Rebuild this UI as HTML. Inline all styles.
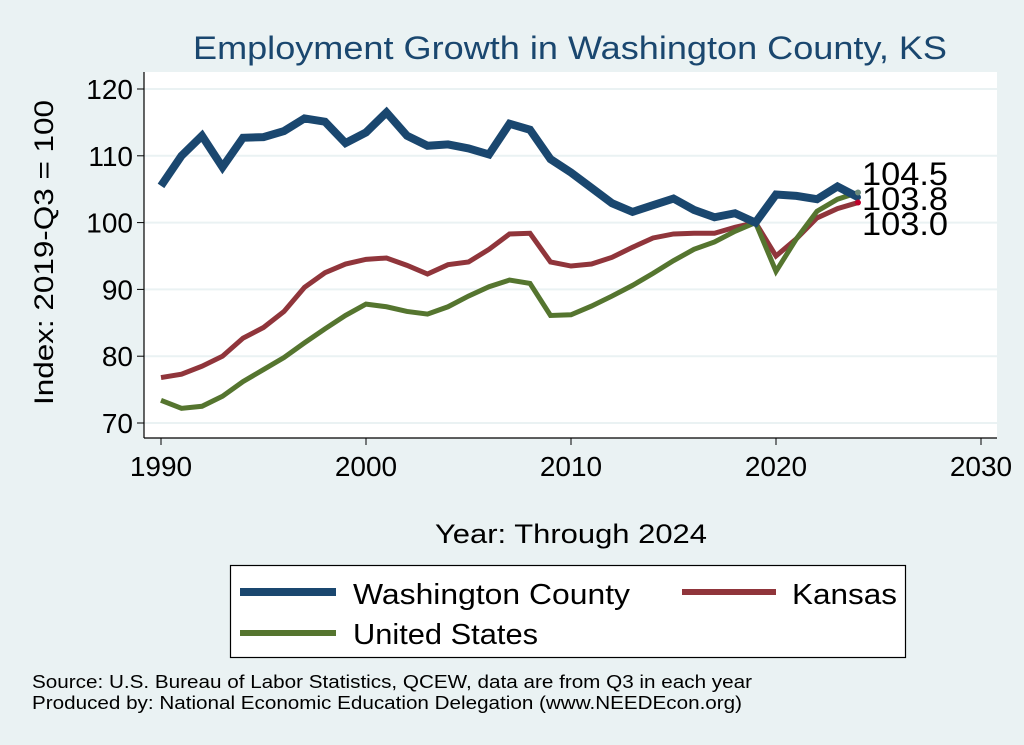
<!DOCTYPE html>
<html><head><meta charset="utf-8"><style>
html,body{margin:0;padding:0;background:#eaf2f3;}
svg{display:block;font-family:"Liberation Sans",sans-serif;}
</style></head><body>
<svg id="chart" width="1024" height="745" viewBox="0 0 1024 745" xmlns="http://www.w3.org/2000/svg">
<rect x="0" y="0" width="1024" height="745" fill="#eaf2f3"/>
<text x="193" y="59" textLength="754" lengthAdjust="spacingAndGlyphs" font-size="32" fill="#1a476f">Employment Growth in Washington County, KS</text>
<rect x="144" y="72" width="853" height="366" fill="#ffffff"/>
<g id="grid"></g>
<g id="axes"></g>
<g id="series"></g>
<text transform="translate(53,405) rotate(-90)" textLength="305" lengthAdjust="spacingAndGlyphs" font-size="27" fill="#000">Index: 2019-Q3 = 100</text>
<text x="435" y="543" textLength="272" lengthAdjust="spacingAndGlyphs" font-size="27" fill="#000">Year: Through 2024</text>
<g>
<rect x="230.5" y="565.5" width="675" height="92" fill="#fff" stroke="#000" stroke-width="1.2"/>
<line x1="240" y1="592" x2="336" y2="592" stroke="#1a476f" stroke-width="8"/>
<text x="353" y="604" textLength="277" lengthAdjust="spacingAndGlyphs" font-size="29">Washington  County</text>
<line x1="682" y1="592" x2="776" y2="592" stroke="#90353b" stroke-width="6"/>
<text x="792" y="604" textLength="105" lengthAdjust="spacingAndGlyphs" font-size="29">Kansas</text>
<line x1="240" y1="633" x2="336" y2="633" stroke="#55752f" stroke-width="6"/>
<text x="353" y="644" textLength="185" lengthAdjust="spacingAndGlyphs" font-size="29">United States</text>
</g>
<text x="32" y="688" textLength="720" lengthAdjust="spacingAndGlyphs" font-size="18">Source: U.S. Bureau of Labor Statistics, QCEW, data are from Q3 in each year</text>
<text x="32" y="709" textLength="710" lengthAdjust="spacingAndGlyphs" font-size="18">Produced by: National Economic Education Delegation (www.NEEDEcon.org)</text>
</svg>
<script>
const years=[];for(let y=1990;y<=2024;y++)years.push(y);
const washington=[105.5,110,113,108.3,112.7,112.8,113.7,115.6,115.1,111.9,113.5,116.5,113,111.5,111.7,111.1,110.2,114.8,113.9,109.5,107.5,105.2,102.9,101.6,102.6,103.6,101.9,100.8,101.4,100,104.2,104,103.5,105.4,103.8];
const kansas=[76.8,77.3,78.5,80,82.7,84.3,86.7,90.3,92.5,93.8,94.5,94.7,93.6,92.3,93.7,94.1,96,98.3,98.4,94.1,93.5,93.8,94.8,96.3,97.7,98.3,98.4,98.4,99.3,100,95,97.6,100.7,102.1,103.0];
const us=[73.4,72.2,72.5,74,76.2,78,79.8,82,84.1,86.1,87.8,87.4,86.7,86.3,87.4,89,90.4,91.4,90.9,86.1,86.2,87.5,89,90.6,92.4,94.3,96,97.1,98.7,100,92.7,97.6,101.7,103.5,104.5];
const yTicks=[70,80,90,100,110,120];
const xTicks=[1990,2000,2010,2020,2030];
const endLabels=["104.5","103.8","103.0"];
const NS="http://www.w3.org/2000/svg";
const X=v=>161+(v-1990)*20.5;
const Y=v=>89+(120-v)*6.68;
function mk(t,a,p){const e=document.createElementNS(NS,t);for(const k in a)e.setAttribute(k,a[k]);p.appendChild(e);return e;}
const grid=document.getElementById('grid'),axes=document.getElementById('axes'),ser=document.getElementById('series');
yTicks.forEach(v=>{
 const g=mk('line',{x1:144,x2:997,y1:Y(v),y2:Y(v),stroke:'#eaf2f3','stroke-width':2},grid);
 
 
 const t=mk('line',{x1:137,x2:144,y1:Y(v),y2:Y(v),stroke:'#000','stroke-width':1},axes);
 
 
 const l=mk('text',{x:133,y:Y(v)+10,'text-anchor':'end','font-size':28},axes);l.textContent=v;
 
 
});
xTicks.forEach(v=>{
 const t=mk('line',{x1:X(v),x2:X(v),y1:438,y2:445,stroke:'#000','stroke-width':1},axes);
 
 
 const l=mk('text',{x:X(v),y:476,'text-anchor':'middle','font-size':28},axes);l.textContent=v;
 
 
});
const ya=mk('line',{x1:144,x2:144,y1:72,y2:438,stroke:'#000','stroke-width':1.2},axes);


const xa=mk('line',{x1:144,x2:997,y1:438,y2:438,stroke:'#000','stroke-width':1.2},axes);


function line(d,c,w,n){
 const p=mk('polyline',{points:d.map((v,i)=>X(years[i])+','+Y(v)).join(' '),fill:'none',stroke:c,'stroke-width':w,'stroke-linejoin':'miter'},ser);
 
 
}
line(kansas,'#90353b',5,'kansas-line');
line(us,'#55752f',5,'us-line');
line(washington,'#1a476f',8,'washington-line');
const last=years.length-1;
[[washington,'#1a476f'],[kansas,'#c0002a'],[us,'#6a8a7a']].forEach((s,i)=>{
 const c=mk('circle',{cx:X(years[last]),cy:Y(s[0][last]),r:3,fill:s[1]},ser);
 
 
});
endLabels.forEach((t,i)=>{
 const l=mk('text',{x:862,y:185+i*25,'font-size':32,textLength:86,lengthAdjust:'spacingAndGlyphs'},ser);l.textContent=t;
 
 
});
</script>
</body></html>
